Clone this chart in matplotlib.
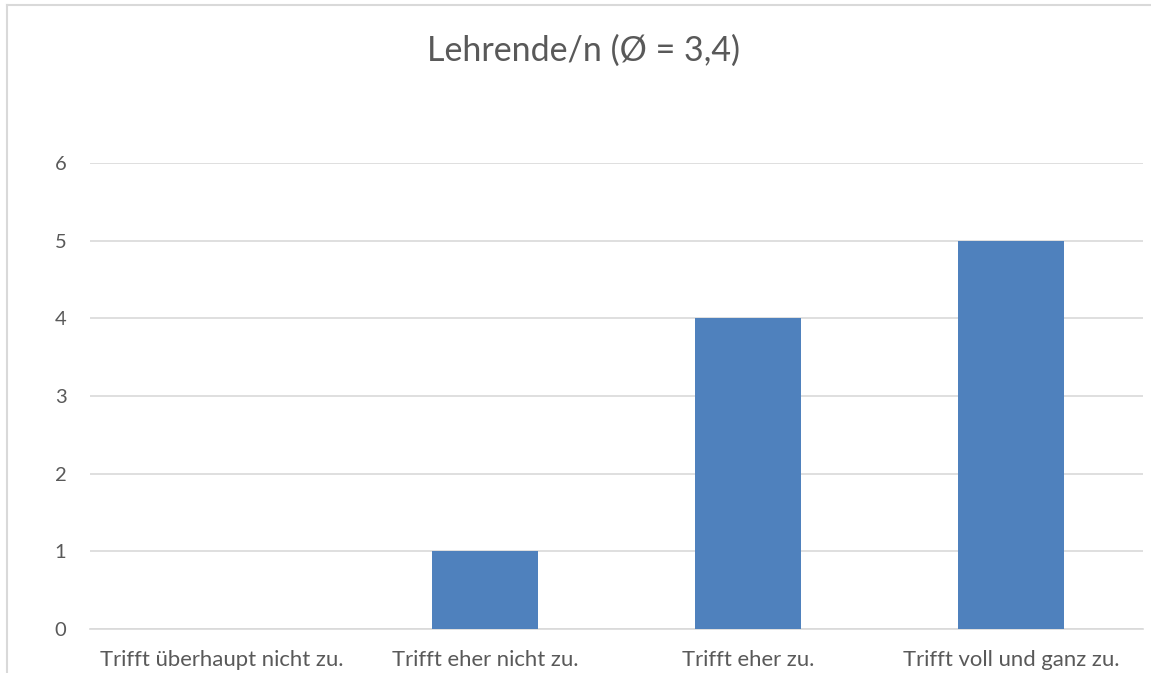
import matplotlib.pyplot as plt
from matplotlib.lines import Line2D

categories = ["Trifft überhaupt nicht zu.", "Trifft eher nicht zu.",
              "Trifft eher zu.", "Trifft voll und ganz zu."]
counts = [0, 1, 4, 5]
yticks = [0, 1, 2, 3, 4, 5, 6]
title = "Lehrende/n (Ø = 3,4)"

W, H = 1151, 673
plt.rcParams['font.family'] = ['Lato', 'DejaVu Sans']
text_color = '#595959'
grid_color = '#D9D9D9'

fig = plt.figure(figsize=(W / 100, H / 100), dpi=100)
ax = fig.add_axes([90 / W, 1 - 629 / H, (1143 - 90) / W, (629 - 163) / H])

x = range(len(categories))
ax.bar(x, counts, width=0.403, color='#4F81BD', zorder=3)
ax.set_xlim(-0.5, len(categories) - 0.5)
ax.set_ylim(0, 6)
ax.set_yticks(yticks)
ax.set_xticks(list(x))
ax.set_xticklabels(categories)

ax.grid(axis='y', color=grid_color, linewidth=1.2, zorder=0)
for s in ['top', 'right', 'left']:
    ax.spines[s].set_visible(False)
ax.spines['bottom'].set_color(grid_color)
ax.spines['bottom'].set_linewidth(1.2)
ax.tick_params(axis='both', length=0, colors=text_color)
ax.tick_params(axis='y', labelsize=14.5, pad=17)
ax.tick_params(axis='x', labelsize=15.9, pad=15)

fig.text(583.5 / W, 1 - 51 / H, title, ha='center', va='center',
         fontsize=24.5, color=text_color)

# chart area border (only left and top edges fall inside the image)
fig.add_artist(Line2D([7 / W, 7 / W], [0, 1 - 5 / H], transform=fig.transFigure,
                      color=grid_color, linewidth=1.5))
fig.add_artist(Line2D([7 / W, 1], [1 - 5 / H, 1 - 5 / H], transform=fig.transFigure,
                      color=grid_color, linewidth=1.5))

fig.savefig('out.png', dpi=100, facecolor='white')
